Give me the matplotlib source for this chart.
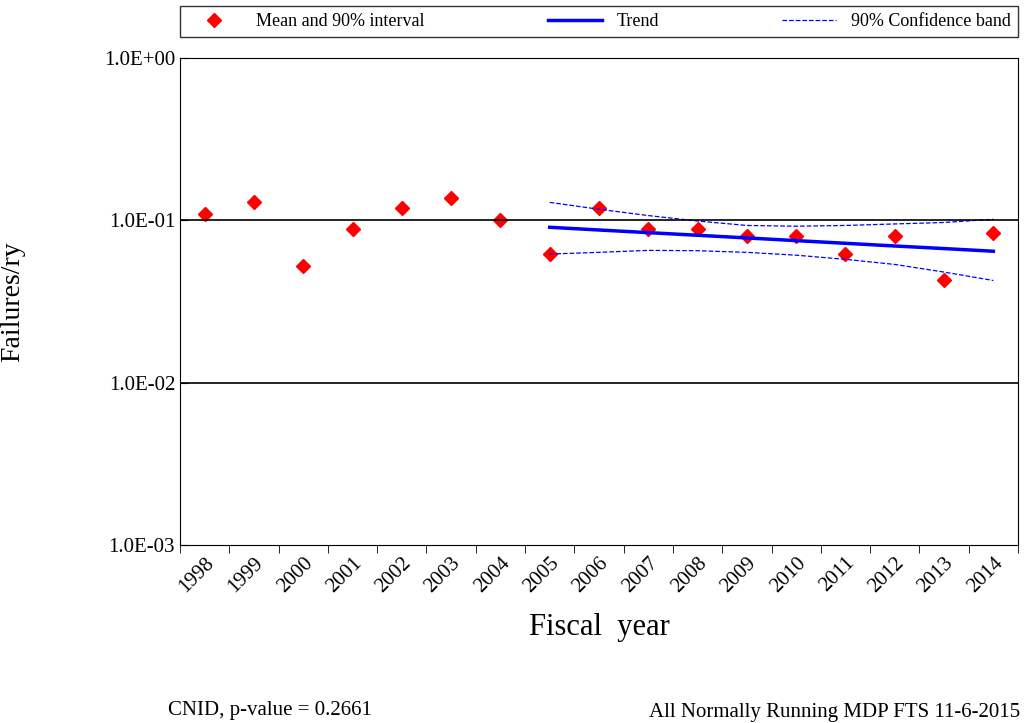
import numpy as np
import matplotlib.pyplot as plt
from matplotlib.ticker import FixedLocator, NullLocator

plt.rcParams['font.family'] = ['Liberation Serif', 'DejaVu Serif']

years = list(range(1998, 2015))
means = [0.109, 0.129, 0.052, 0.088, 0.119, 0.137, 0.100, 0.062, 0.119,
         0.088, 0.088, 0.080, 0.080, 0.062, 0.080, 0.043, 0.084]
trend_years = list(range(2005, 2015))
trend = [0.0906, 0.0872, 0.0840, 0.0809, 0.0779, 0.0750, 0.0722, 0.0695, 0.0670, 0.0645]
upper = [0.129, 0.117, 0.107, 0.099, 0.093, 0.092, 0.093, 0.095, 0.097, 0.1015]
lower = [0.062, 0.0635, 0.0653, 0.065, 0.0635, 0.061, 0.0575, 0.0535, 0.048, 0.0426]

fig = plt.figure(figsize=(10.29, 7.23), dpi=100)
ax = fig.add_axes([180/1029, 1-545/723, 838/1029, 487/723])

x = np.arange(len(years))
tx = np.array([years.index(y) for y in trend_years])
ax.plot(x, means, 'D', color='#ff0000', markersize=7, label='Mean and 90% interval')
ax.plot(tx, trend, '-', color='#0000ff', lw=2.5, label='Trend')
ax.plot(tx, upper, '--', color='#0000ff', lw=0.9, label='90% Confidence band')
ax.plot(tx, lower, '--', color='#0000ff', lw=0.9)

ax.set_yscale('log')
ax.set_ylim(1e-3, 1)
ax.set_xlim(-0.5, len(years) - 0.5)
ax.yaxis.set_major_locator(FixedLocator([1e-3, 1e-2, 1e-1, 1]))
ax.yaxis.set_minor_locator(NullLocator())
ax.set_yticklabels(['1.0E-03', '1.0E-02', '1.0E-01', '1.0E+00'], fontsize=15)
for v in [1e-2, 1e-1]:
    ax.axhline(v, color='black', lw=1.2)
ax.set_xticks(x)
ax.set_xticklabels([str(y) for y in years], rotation=45, ha='right',
                   rotation_mode='anchor', fontsize=15)
ax.set_xticks(np.arange(len(years) + 1) - 0.5, minor=True)
ax.tick_params(axis='x', which='major', length=0, pad=6)
ax.tick_params(axis='x', which='minor', length=6, direction='out')
ax.tick_params(axis='y', direction='in', length=6)
ax.set_xlabel('Fiscal  year', fontsize=22, labelpad=12)
ax.set_ylabel('Failures/ry', fontsize=20)
ax.yaxis.set_label_coords(-155/838, 0.50)

fig.legend(loc='upper left', bbox_to_anchor=(180/1029, 1-38/723, 838/1029, 32/723),
           mode='expand', ncol=3, fontsize=13, frameon=True, fancybox=False,
           edgecolor='black', borderaxespad=0, handlelength=3)

fig.text(168/1029, 1-710/723, 'CNID, p-value = 0.2661', fontsize=15, va='center')
fig.text(1020/1029, 1-712/723, 'All Normally Running MDP FTS 11-6-2015',
         fontsize=15, va='center', ha='right')

fig.savefig('out.png', dpi=100)
